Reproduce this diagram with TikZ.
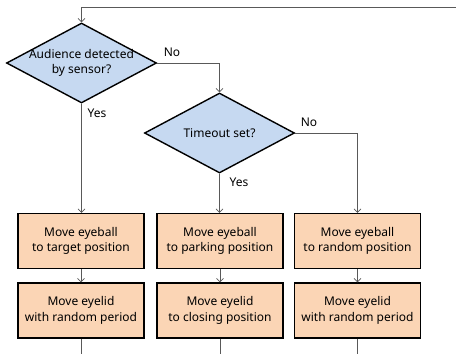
\documentclass[tikz,border=0pt]{standalone}
\usepackage{fontspec}
\setmainfont{Noto Sans}
\usetikzlibrary{shapes.geometric,arrows.meta}
\definecolor{diafill}{HTML}{C6D9F1}
\definecolor{boxfill}{HTML}{FBD5B5}
\definecolor{linegray}{HTML}{595959}
\tikzset{
  dia/.style={diamond, draw=black, line width=1.4pt, fill=diafill, inner sep=0pt,
    minimum width=150pt, minimum height=80pt},
  procbox/.style={rectangle, draw=black, line width=1.4pt, fill=boxfill,
    minimum width=126pt, minimum height=55pt, inner sep=0pt, align=center,
    font=\fontsize{12pt}{15.5pt}\selectfont},
  txt/.style={align=center, inner sep=0pt, font=\fontsize{12pt}{15.5pt}\selectfont},
  lbl/.style={inner sep=0pt, font=\fontsize{12pt}{14pt}\selectfont},
  conn/.style={draw=linegray, line width=0.7pt, -{Straight Barb[length=3.5pt,width=7pt]}},
  plain/.style={draw=linegray, line width=0.7pt}
}
\begin{document}
\begin{tikzpicture}[x=1pt,y=-1pt]
\useasboundingbox (0,0) rectangle (456,354);
% diamonds
\node[dia] (d1) at (81.5,63) {};
\node[txt] (t1) at (d1.center) {Audience detected\\by sensor?};
\node[dia] (d2) at (219.5,133) {};
\node[txt] (t2) at (d2.center) {Timeout set?};
% boxes
\node[procbox] (b1) at (81,241) {Move eyeball\\to target position};
\node[procbox] (b2) at (220,241) {Move eyeball\\to parking position};
\node[procbox] (b3) at (357.5,241) {Move eyeball\\to random position};
\node[procbox] (c1) at (81,310.5) {Move eyelid\\with random period};
\node[procbox] (c2) at (220,310.5) {Move eyelid\\to closing position};
\node[procbox] (c3) at (357.5,310.5) {Move eyelid\\with random period};
% coordinates
\coordinate (topR) at (456,7);
\coordinate (topL) at (81.5,7);
\coordinate (k1) at (219.5,63);
\coordinate (k2) at (357.5,133);
\coordinate (e1) at (81,354);
\coordinate (e2) at (220,354);
\coordinate (e3) at (357.5,354);
% connectors
\draw[conn] (topR) -- (topL) -- (d1.north);
\draw[conn] (d1.east) -- (k1) -- (d2.north);
\draw[conn] (d1.south) -- (d1.south |- b1.north);
\draw[conn] (d2.south) -- (d2.south |- b2.north);
\draw[conn] (d2.east) -- (k2) -- (b3.north);
\draw[conn] (b1) -- (c1);
\draw[conn] (b2) -- (c2);
\draw[conn] (b3) -- (c3);
\draw[plain] (c1) -- (e1);
\draw[plain] (c2) -- (e2);
\draw[plain] (c3) -- (e3);
% labels
\node[lbl] (n1) at (172,52) {No};
\node[lbl] (y1) at (97,113) {Yes};
\node[lbl] (n2) at (309,122) {No};
\node[lbl] (y2) at (239,182) {Yes};
\end{tikzpicture}
\end{document}
